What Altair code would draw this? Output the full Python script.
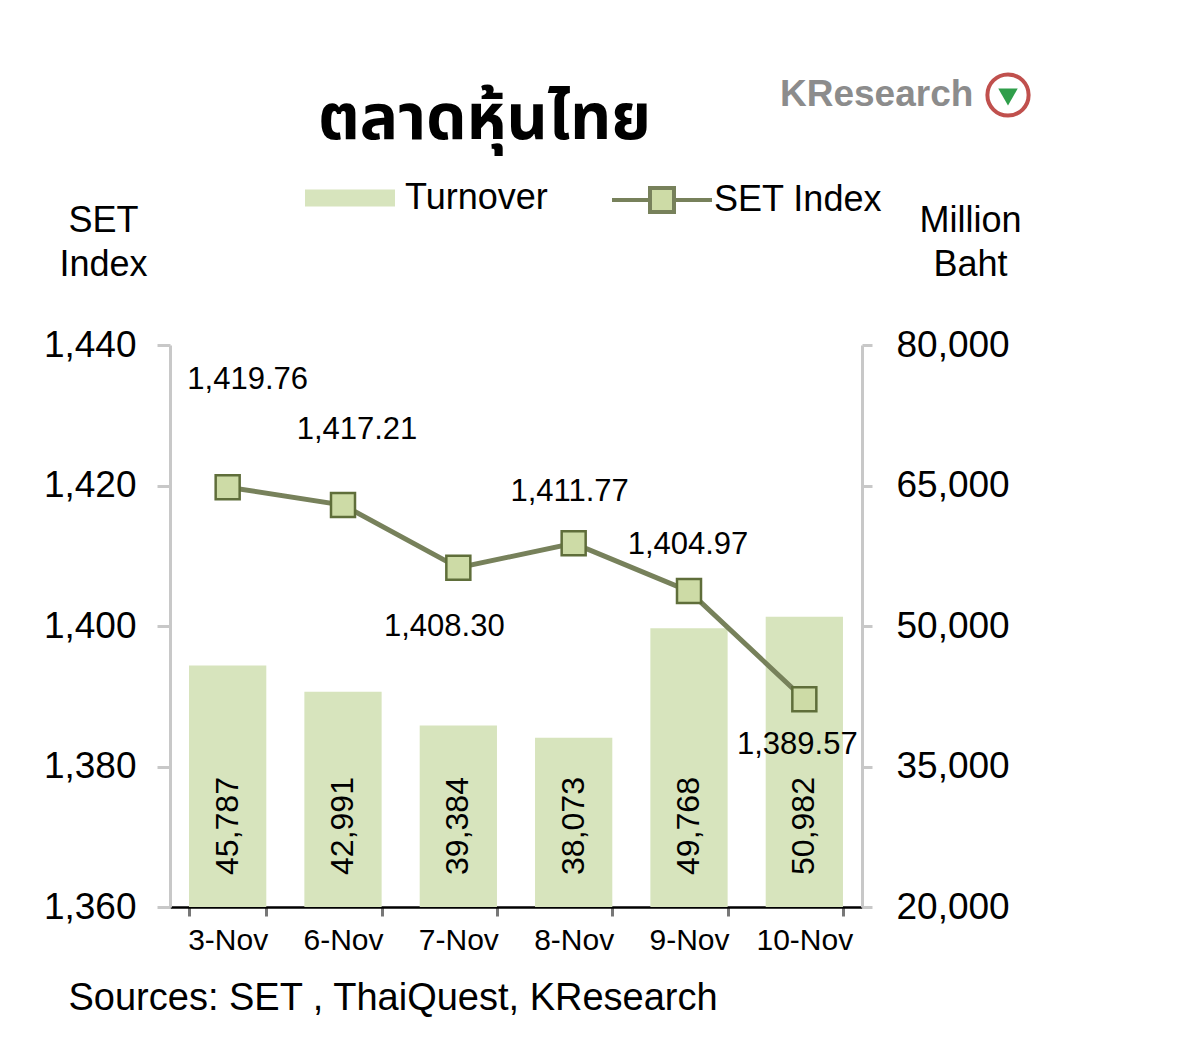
import altair as alt
import pandas as pd

# ---- data ----
dates = ["3-Nov", "6-Nov", "7-Nov", "8-Nov", "9-Nov", "10-Nov"]
turnover = [45787, 42991, 39384, 38073, 49768, 50982]
set_index = [1419.76, 1417.21, 1408.30, 1411.77, 1404.97, 1389.57]
left_ticks = [1360, 1380, 1400, 1420, 1440]
right_ticks = [20000, 35000, 50000, 65000, 80000]

# label offsets (style) for each SET Index data label, in pixels
label_offsets = [(20, -107), (14, -75), (-14, 59), (-4, -51), (-1, -46), (-7, 46)]

FONT = "Liberation Sans"
BAR_COLOR = "#d7e4bd"
LINE_COLOR = "#77815b"
MARKER_FILL = "#cddba6"
MARKER_STROKE = "#5f6e3a"

df = pd.DataFrame({
    "date": dates,
    "turnover": turnover,
    "set": set_index,
    "bar_series": ["Turnover"] * len(dates),
    "line_series": ["SET Index"] * len(dates),
})

base = alt.Chart(df)

x = alt.X(
    "date:N", sort=dates,
    scale=alt.Scale(paddingInner=0.33, paddingOuter=0.165),
    axis=alt.Axis(
        title="Sources: SET , ThaiQuest, KResearch",
        titleX=-102, titleY=72, titleAlign="left", titleBaseline="top",
        titleFontSize=38, titleFontWeight="normal", titleFont=FONT,
        labelAngle=0, labelFontSize=30, labelPadding=9, labelFont=FONT,
        tickBand="extent", tickSize=9, tickWidth=3, tickColor="#777777",
        domainColor="#000000", domainWidth=2.5,
    ),
)

y_right = alt.Y(
    "turnover:Q",
    scale=alt.Scale(domain=[20000, 80000], zero=False, nice=False),
    axis=alt.Axis(
        orient="right", values=right_ticks, format=",d",
        title=["Million", "Baht"], titleAngle=0, titleX=108, titleY=-142,
        titleAlign="center", titleBaseline="top", titleFontSize=36,
        titleLineHeight=44, titleFontWeight="normal", titleFont=FONT,
        labelFontSize=37, labelPadding=24, labelFont=FONT,
        tickSize=10, tickWidth=3, tickColor="#c8c8c8",
        domainColor="#c8c8c8", domainWidth=3,
    ),
)

y_left = alt.Y(
    "set:Q",
    scale=alt.Scale(domain=[1360, 1440], zero=False, nice=False),
    axis=alt.Axis(
        orient="left", values=left_ticks, format=",d",
        title=["SET", "Index"], titleAngle=0, titleX=-67, titleY=-142,
        titleAlign="center", titleBaseline="top", titleFontSize=36,
        titleLineHeight=44, titleFontWeight="normal", titleFont=FONT,
        labelFontSize=37, labelPadding=21, labelFont=FONT,
        tickSize=13, tickWidth=3, tickColor="#c8c8c8",
        domainColor="#c8c8c8", domainWidth=3,
    ),
)

bars = base.mark_bar().encode(
    x=x,
    y=y_right,
    y2=alt.Y2(datum=20000),
    fill=alt.Fill(
        "bar_series:N",
        scale=alt.Scale(domain=["Turnover"], range=[BAR_COLOR]),
        legend=alt.Legend(
            title=None, orient="none", legendX=135, legendY=-192,
            symbolType="M-1,-0.19H1V0.19H-1Z", symbolSize=8100,
            symbolStrokeWidth=0, labelFontSize=36, labelFont=FONT,
            labelOffset=10, labelLimit=400,
        ),
    ),
)

bar_text = base.mark_text(
    angle=270, fontSize=32, font=FONT, color="black",
    baseline="middle", align="center",
).encode(
    x=x,
    y=alt.value(481),
    text=alt.Text("turnover:Q", format=",d"),
)

line = base.mark_line(strokeWidth=5).encode(
    x=x,
    y=y_left,
    stroke=alt.Stroke(
        "line_series:N",
        scale=alt.Scale(domain=["SET Index"], range=[LINE_COLOR]),
        legend=alt.Legend(
            title=None, orient="none", legendX=440, legendY=-197,
            symbolType="M-1,0H-0.24M0.24,0H1M-0.24,-0.24H0.24V0.24H-0.24Z",
            symbolSize=10000, symbolStrokeWidth=4,
            symbolFillColor=MARKER_FILL, labelFontSize=36, labelFont=FONT,
            labelOffset=0, labelLimit=400,
        ),
    ),
)

points = base.mark_point(
    shape="square", size=576, filled=True, fill=MARKER_FILL,
    stroke=MARKER_STROKE, strokeWidth=2.5, opacity=1,
).encode(x=x, y=alt.Y("set:Q"))

label_layers = []
for d, (dx, dy) in zip(dates, label_offsets):
    label_layers.append(
        base.transform_filter(alt.datum.date == d).mark_text(
            fontSize=31, font=FONT, color="black", dx=dx, dy=dy,
            align="center", baseline="middle",
        ).encode(x=x, y=alt.Y("set:Q"), text=alt.Text("set:Q", format=",.2f"))
    )

logo_df = pd.DataFrame({"logo": ["KResearch"]})
logo_text = alt.Chart(logo_df).mark_text(
    font=FONT, fontSize=37, fontWeight="bold", color="#8c8c8c",
    align="left", baseline="middle",
).encode(x=alt.value(610), y=alt.value(-250), text="logo:N")
logo_ring = alt.Chart(logo_df).mark_point(
    shape="circle", size=1700, filled=False, stroke="#c0504d",
    strokeWidth=4, opacity=1,
).encode(x=alt.value(838), y=alt.value(-250))
logo_leaf = alt.Chart(logo_df).mark_point(
    shape="triangle-down", size=380, filled=True, color="#2f9e4a", opacity=1,
).encode(x=alt.value(838), y=alt.value(-248))

right_layer = alt.layer(bars, bar_text)
left_layer = alt.layer(line, points, *label_layers)

chart = alt.layer(right_layer, left_layer, logo_text, logo_ring, logo_leaf).resolve_scale(
    y="independent"
).properties(
    width=692,
    height=562,
    padding={"left": 162, "top": 337, "right": 200, "bottom": 120},
    autosize=alt.AutoSizeParams(type="none"),
    title=alt.TitleParams(
        "ตลาดหุ้นไทย", fontSize=64, fontWeight="bold",
        font="Noto Sans Thai, Noto Serif Thai, Tahoma, sans-serif",
        anchor="start", frame="group", dx=148, dy=86, offset=0, color="black",
    ),
).configure_view(stroke=None).configure_axis(
    grid=False, labelColor="black", titleColor="black"
)

chart.save("out.html", embed_options={"renderer": "svg", "actions": False})
